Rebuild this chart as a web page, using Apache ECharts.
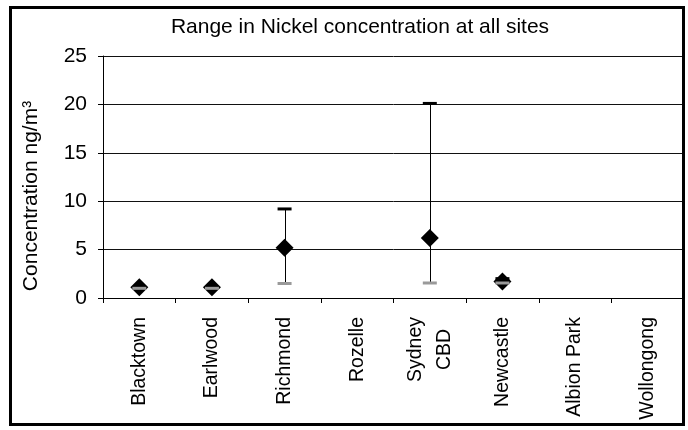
<!DOCTYPE html>
<html>
<head>
<meta charset="utf-8">
<script src="https://cdn.jsdelivr.net/npm/echarts@6/dist/echarts.min.js"></script>
<style>
  html, body { margin: 0; padding: 0; background: #fff; }
  #chart { width: 688px; height: 430px; }
</style>
</head>
<body>
<div id="chart"></div>
<script>
// sites along the x axis
const sites = ['Blacktown', 'Earlwood', 'Richmond', 'Rozelle', 'Sydney\nCBD', 'Newcastle', 'Albion Park', 'Wollongong'];
// nickel concentration ng/m3 (null = no data)
const meanValues = [1.1, 1.1, 5.2, null, 6.2, 1.7, null, null];
const maxValues = [1.1, 1.1, 9.2, null, 20.1, 2.0, null, null];
const minValues = [1.0, 1.0, 1.5, null, 1.55, 1.55, null, null];
const yTicks = [0, 5, 10, 15, 20, 25];

const chart = echarts.init(document.getElementById('chart'));
const font = 'Liberation Sans, Arial, sans-serif';

const rangeData = sites.map((s, i) => [i, minValues[i], maxValues[i]])
    .filter(d => d[1] != null && d[2] != null);

const labelStyle = { fontFamily: font, fontSize: 19.5, color: '#000', lineHeight: 29, align: 'center' };

const option = {
    animation: false,
    backgroundColor: '#fff',
    title: {
        text: 'Range in Nickel concentration at all sites',
        left: 355,
        top: 12,
        textAlign: 'center',
        textStyle: { fontFamily: font, fontSize: 21, fontWeight: 'normal', color: '#000' }
    },
    graphic: [{
        type: 'rect',
        shape: { x: 10.5, y: 7.5, width: 673, height: 417 },
        style: { fill: 'none', stroke: '#000', lineWidth: 3 },
        z: 100
    }],
    grid: { left: 103, right: 4, top: 56, bottom: 132 },
    xAxis: {
        type: 'category',
        data: sites,
        axisLine: { lineStyle: { color: '#000', width: 1 } },
        axisTick: { show: true, length: 5, inside: false, lineStyle: { color: '#000' } },
        axisLabel: {
            rotate: 90,
            margin: 19,
            interval: 0,
            fontFamily: font,
            fontSize: 19.5,
            color: '#000',
            formatter: v => v.split('\n').map(t => '{a|' + t + '}').join('\n'),
            rich: { a: labelStyle }
        },
        splitLine: { show: false }
    },
    yAxis: {
        type: 'value',
        min: 0,
        max: 25,
        interval: 5,
        name: 'Concentration ng/m\u00b3',
        nameLocation: 'middle',
        nameGap: 61,
        nameTextStyle: { fontFamily: font, fontSize: 21, color: '#000', padding: [0, 38, 0, 0] },
        axisLine: { show: true, lineStyle: { color: '#000', width: 1 } },
        axisTick: { show: true, length: 5, lineStyle: { color: '#000' } },
        axisLabel: {
            margin: 16,
            fontFamily: font,
            fontSize: 21,
            color: '#000',
            formatter: v => yTicks.includes(v) ? String(v) : ''
        },
        splitLine: { show: true, lineStyle: { color: '#111', width: 1 } }
    },
    series: [
        {
            name: 'Range',
            type: 'custom',
            data: rangeData,
            z: 2,
            renderItem: (params, api) => {
                const lo = api.coord([api.value(0), api.value(1)]);
                const hi = api.coord([api.value(0), api.value(2)]);
                return {
                    type: 'line',
                    shape: { x1: Math.round(lo[0]) + 0.5, y1: lo[1], x2: Math.round(hi[0]) + 0.5, y2: hi[1] },
                    style: { stroke: '#000', lineWidth: 1 }
                };
            }
        },
        {
            name: 'Mean',
            type: 'scatter',
            data: meanValues,
            symbol: 'diamond',
            symbolSize: [18, 18],
            itemStyle: { color: '#000', opacity: 1 },
            z: 3
        },
        {
            name: 'Max',
            type: 'scatter',
            data: maxValues,
            symbol: 'rect',
            symbolSize: [14, 3],
            itemStyle: { color: '#000', opacity: 1 },
            z: 4
        },
        {
            name: 'Min',
            type: 'scatter',
            data: minValues,
            symbol: 'rect',
            symbolSize: [14, 3],
            itemStyle: { color: '#9a9a9a', opacity: 1 },
            z: 5
        }
    ]
};

chart.setOption(option);
</script>
</body>
</html>
